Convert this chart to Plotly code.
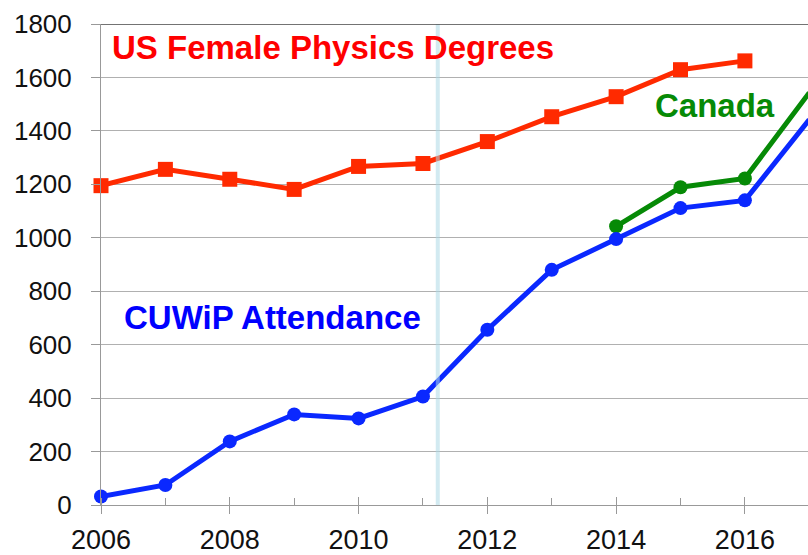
import plotly.graph_objects as go

years_us = [2006, 2007, 2008, 2009, 2010, 2011, 2012, 2013, 2014, 2015, 2016]
us_female_degrees = [1195, 1256, 1219, 1181, 1267, 1278, 1360, 1453, 1528, 1629, 1662]

years_cuwip = [2006, 2007, 2008, 2009, 2010, 2011, 2012, 2013, 2014, 2015, 2016, 2017]
cuwip_attendance = [32, 75, 238, 339, 324, 406, 656, 880, 995, 1111, 1140, 1442]

years_canada = [2014, 2015, 2016, 2017]
canada_attendance = [1043, 1189, 1222, 1543]

y_ticks = [0, 200, 400, 600, 800, 1000, 1200, 1400, 1600, 1800]
x_ticks = [2006, 2008, 2010, 2012, 2014, 2016]
marker_year = 2011.23

fig = go.Figure()

fig.add_trace(go.Scatter(
    x=years_us, y=us_female_degrees, mode="lines+markers",
    line=dict(color="#ff2a00", width=5),
    marker=dict(symbol="square", size=15, color="#ff2a00"),
    cliponaxis=False, showlegend=False))

fig.add_trace(go.Scatter(
    x=years_canada, y=canada_attendance, mode="lines+markers",
    line=dict(color="#068a06", width=5),
    marker=dict(symbol="circle", size=14, color="#068a06"),
    cliponaxis=False, showlegend=False))

fig.add_trace(go.Scatter(
    x=years_cuwip, y=cuwip_attendance, mode="lines+markers",
    line=dict(color="#0a28ff", width=5),
    marker=dict(symbol="circle", size=14, color="#0a28ff"),
    cliponaxis=False, showlegend=False))

# vertical highlight line
fig.add_shape(type="line", xref="x", yref="paper", x0=marker_year, x1=marker_year,
              y0=0, y1=1, line=dict(color="rgba(173,216,230,0.55)", width=4), layer="above")
# top border
fig.add_shape(type="line", xref="paper", yref="y", x0=0, x1=1, y0=1800, y1=1800,
              line=dict(color="#444444", width=1.5), layer="above")

fig.add_annotation(x=2006.14, y=1711, text="<b>US Female Physics Degrees</b>", showarrow=False,
                   xanchor="left", yanchor="middle",
                   font=dict(family="Liberation Sans, Arial", size=33, color="#ff0000"))
fig.add_annotation(x=2006.33, y=701, text="<b>CUWiP Attendance</b>", showarrow=False,
                   xanchor="left", yanchor="middle",
                   font=dict(family="Liberation Sans, Arial", size=33, color="#0000ff"))
fig.add_annotation(x=2014.57, y=1496, text="<b>Canada</b>", showarrow=False,
                   xanchor="left", yanchor="middle",
                   font=dict(family="Liberation Sans, Arial", size=33, color="#068a06"))

fig.update_layout(
    width=808, height=555,
    margin=dict(l=101, r=0, t=24, b=48),
    plot_bgcolor="white", paper_bgcolor="white",
    font=dict(family="Liberation Sans, Arial", color="#111111"),
    xaxis=dict(range=[2006, 2016.98], tickvals=x_ticks, ticktext=[str(v) for v in x_ticks],
               showgrid=False, zeroline=False, showline=True, linecolor="#999999", linewidth=1,
               ticks="outside", ticklen=8, tickcolor="#999999", tickwidth=1,
               ticklabelstandoff=3,
               minor=dict(dtick=1, tick0=2006, ticks="inside", ticklen=7, tickcolor="#999999", showgrid=False),
               tickfont=dict(size=27, color="#111111")),
    xaxis2=dict(range=[2006, 2016.98], overlaying="x", side="bottom", tickvals=x_ticks,
                showticklabels=False, showgrid=False, zeroline=False, showline=False,
                ticks="inside", ticklen=8, tickcolor="#999999", tickwidth=1),
    yaxis=dict(range=[0, 1800], tickvals=y_ticks, showgrid=True, gridcolor="#b0b0b0", gridwidth=1,
               zeroline=False, showline=True, linecolor="#999999", linewidth=1,
               ticks="outside", ticklen=9, tickcolor="#999999", ticklabelstandoff=14,
               tickfont=dict(size=26, color="#111111")),
)
# invisible trace to activate xaxis2
fig.add_trace(go.Scatter(x=[2006], y=[0], xaxis="x2", mode="markers", marker=dict(opacity=0),
                         showlegend=False, hoverinfo="skip"))

fig.write_html("out.html", config={"displayModeBar": False},
               post_script="document.body.style.margin='0';document.body.style.overflow='hidden';")
